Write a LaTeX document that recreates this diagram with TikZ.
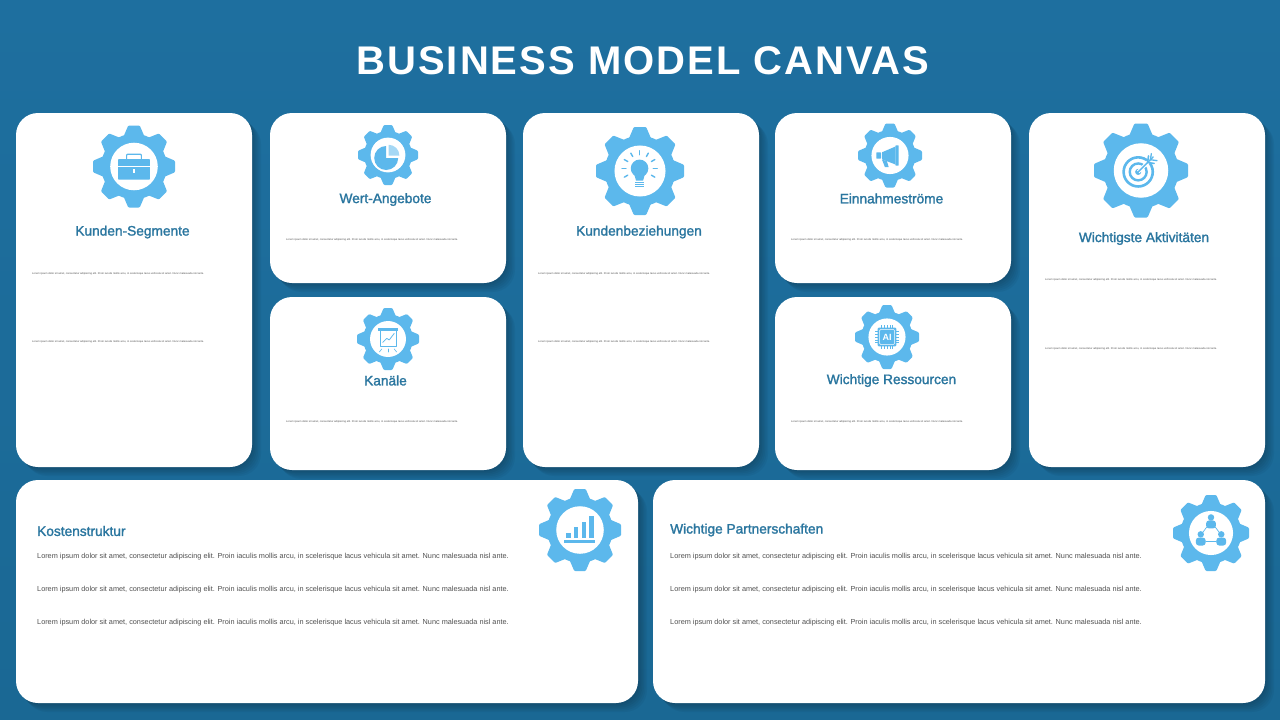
\documentclass[tikz,border=0pt]{standalone}
\usepackage{fontspec}
\setmainfont{Liberation Sans}
\newfontfamily\titlefont[LetterSpace=5]{Liberation Sans}
\newfontfamily\headfont[FakeBold=1.6]{Liberation Sans}
\usepackage{tikz}
\usetikzlibrary{positioning,shadows}

\definecolor{canvasblue}{HTML}{1E6F9F}
\definecolor{canvasdeep}{HTML}{1A6894}
\definecolor{gearblue}{HTML}{5CB8EC}
\definecolor{headblue}{HTML}{2A769F}
\definecolor{loremgrey}{HTML}{505050}

\newcommand{\loremline}{Lorem ipsum dolor sit amet, consectetur adipiscing elit. Proin iaculis mollis arcu, in scelerisque lacus vehicula sit amet. Nunc malesuada nisl ante.}

\tikzset{
    softshadow/.style={general shadow={fill=black,fill opacity=.04,shadow xshift=#1,shadow yshift=-#1}},
    cardbox/.style={fill=white,rounded corners=22pt,inner sep=0pt,
        softshadow=1.5pt,softshadow=3pt,softshadow=4.5pt,softshadow=6pt,softshadow=7.5pt,softshadow=9pt},
    maintitle/.style={text=white,font=\titlefont\fontsize{40}{44}\selectfont\bfseries},
    cardhead/.style={text=headblue,font=\headfont\fontsize{13.7}{15}\selectfont},
    tinylorem/.style={text=loremgrey,inner sep=0pt,anchor=west,font=\fontsize{2.66}{3}\selectfont},
    biglorem/.style={text=loremgrey,inner sep=0pt,anchor=west,font=\fontsize{7.3}{9}\selectfont},
    iconline/.style={draw=gearblue,line width=#1,line cap=round,line join=round},
    iconline/.default=1pt
}

% gear with a white hole, the icon goes in as #4, in units of the gear radius
\newcommand{\gearicon}[4]{%
    \begin{scope}[shift={(#1,#2)},scale=#3]
        \fill[gearblue] (0,0) circle (.8);
        \foreach \a in {0,45,...,315}{
            \fill[gearblue,rotate=\a,rounded corners=1pt] (-.26,-.72) -- (-.14,-1) -- (.14,-1) -- (.26,-.72) -- cycle;
        }
        \fill[white] (0,0) circle (.58);
        #4
    \end{scope}}

\begin{document}
\begin{tikzpicture}[x=1pt,y=-1pt]
    \useasboundingbox (0,0) rectangle (1280,720);
    \shade[top color=canvasblue,bottom color=canvasdeep] (0,0) rectangle (1280,720);

    \node[maintitle] (title) at (643,61) {BUSINESS MODEL CANVAS};

    % Define cards
    \node[cardbox,minimum width=236pt,minimum height=354pt] (segmente) at (134,290) {};
    \node[cardbox,minimum width=236pt,minimum height=170pt] (angebote) at (388,198) {};
    \node[cardbox,minimum width=236pt,minimum height=173pt] (kanaele) at (388,383.5) {};
    \node[cardbox,minimum width=236pt,minimum height=354pt] (beziehungen) at (641,290) {};
    \node[cardbox,minimum width=236pt,minimum height=170pt] (einnahmen) at (893,198) {};
    \node[cardbox,minimum width=236pt,minimum height=173pt] (ressourcen) at (893,383.5) {};
    \node[cardbox,minimum width=236pt,minimum height=354pt] (aktivitaeten) at (1147,290) {};
    \node[cardbox,minimum width=622pt,minimum height=223pt] (kosten) at (327,591.5) {};
    \node[cardbox,minimum width=612pt,minimum height=223pt] (partner) at (959,591.5) {};

    % Card heads
    \node[cardhead] (segmentehead) at (132.5,232) {Kunden-Segmente};
    \node[cardhead] (angebotehead) at (385.5,199.5) {Wert-Angebote};
    \node[cardhead] (kanaelehead) at (385.5,380.5) {Kanäle};
    \node[cardhead] (beziehungenhead) at (639,232) {Kundenbeziehungen};
    \node[cardhead] (einnahmenhead) at (891.5,198.5) {Einnahmeströme};
    \node[cardhead] (ressourcenhead) at (891.5,380.5) {Wichtige Ressourcen};
    \node[cardhead] (aktivitaetenhead) at (1144,238.5) {Wichtigste Aktivitäten};
    \node[cardhead,anchor=west,inner sep=0pt] (kostenhead) at (37,531) {Kostenstruktur};
    \node[cardhead,anchor=west,inner sep=0pt] (partnerhead) at (670,530) {Wichtige Partnerschaften};

    % Lorem lines
    \node[tinylorem] (segmentea) at (32,274) {\loremline};
    \node[tinylorem,below=68pt of segmentea.west,anchor=west] (segmenteb) {\loremline};
    \node[tinylorem] (angebotea) at (286,240) {\loremline};
    \node[tinylorem] (kanaelea) at (286,422) {\loremline};
    \node[tinylorem] (beziehungena) at (538,274) {\loremline};
    \node[tinylorem,below=68pt of beziehungena.west,anchor=west] (beziehungenb) {\loremline};
    \node[tinylorem] (einnahmena) at (791,240) {\loremline};
    \node[tinylorem] (ressourcena) at (791,422) {\loremline};
    \node[tinylorem] (aktivitaetena) at (1045,280) {\loremline};
    \node[tinylorem,below=69pt of aktivitaetena.west,anchor=west] (aktivitaetenb) {\loremline};
    \node[biglorem] (kostena) at (37,556.5) {\loremline};
    \node[biglorem,below=33pt of kostena.west,anchor=west] (kostenb) {\loremline};
    \node[biglorem,below=33pt of kostenb.west,anchor=west] (kostenc) {\loremline};
    \node[biglorem] (partnera) at (670,556.5) {\loremline};
    \node[biglorem,below=33pt of partnera.west,anchor=west] (partnerb) {\loremline};
    \node[biglorem,below=33pt of partnerb.west,anchor=west] (partnerc) {\loremline};

    % briefcase
    \gearicon{134}{166.5}{41}{
        \draw[iconline=1.2pt,rounded corners=1pt] (-.18,-.18) -- (-.18,-.3) -- (.18,-.3) -- (.18,-.18);
        \fill[gearblue,rounded corners=.8pt] (-.39,-.18) rectangle (.39,.32);
        \draw[white,line width=.9pt] (-.39,-.01) -- (.39,-.01);
        \fill[white] (-.03,.07) rectangle (.03,.17);
    }
    % pie chart
    \gearicon{388}{155}{30}{
        \fill[gearblue] (-.06,.1) -- ++(0:.4) arc (0:270:.4) -- cycle;
        \fill[gearblue!55] (.02,.02) -- ++(0:.36) arc (0:-90:.36) -- cycle;
    }
    % presentation board
    \gearicon{388}{339}{31}{
        \draw[iconline=.7pt] (-.26,-.27) rectangle (.28,.25);
        \fill[gearblue] (-.33,-.34) rectangle (.33,-.27);
        \draw[iconline=.8pt] (-.17,.11) -- (-.04,-.02) -- (.04,.03) -- (.2,-.18);
        \foreach \a in {-.2,0,.2}{
            \draw[iconline=.6pt] (\a,.32) -- (1.4*\a,.42);
        }
    }
    % light bulb
    \gearicon{640}{171}{44}{
        \fill[gearblue] (-.01,-.06) circle (.2);
        \fill[gearblue] (-.14,.04) -- (-.09,.22) -- (.07,.22) -- (.12,.04) -- cycle;
        \foreach \b in {.26,.31,.36}{
            \draw[gearblue,line width=1.1pt] (-.11,\b) -- (.09,\b);
        }
        \foreach \a in {-90,-60,-30,0,30,-120,-150,180,150}{
            \draw[iconline=1.4pt] (-.01,-.06) ++(\a:.31) -- ++(\a:.09);
        }
    }
    % megaphone
    \gearicon{890}{155.5}{32}{
        \fill[gearblue,rounded corners=.6pt] (.17,-.32) rectangle (.27,.32);
        \fill[gearblue] (.17,-.28) -- (-.25,-.1) -- (-.25,.12) -- (.17,.28) -- cycle;
        \fill[gearblue,rounded corners=.6pt] (-.43,-.1) rectangle (-.28,.1);
        \fill[gearblue] (-.25,.13) -- (-.16,.36) -- (-.04,.36) -- (-.1,.17) -- cycle;
    }
    % chip
    \gearicon{887}{337}{32}{
        \foreach \a in {-.18,-.09,0,.09,.18}{
            \draw[gearblue,line width=.6pt] (\a,-.36) -- (\a,.36);
            \draw[gearblue,line width=.6pt] (-.36,\a) -- (.36,\a);
        }
        \fill[gearblue,rounded corners=1pt] (-.29,-.29) rectangle (.29,.29);
        \draw[white,line width=.6pt,rounded corners=.8pt] (-.23,-.23) rectangle (.23,.23);
        \node[text=white,inner sep=0pt,font=\fontsize{9}{10}\selectfont\bfseries] (chiplabel) at (0,0) {AI};
    }
    % target
    \gearicon{1141}{170.5}{47}{
        \draw[gearblue,line width=2.6pt] (-.06,.03) circle (.31);
        \draw[gearblue,line width=2.4pt] (-.06,.03) circle (.18);
        \fill[gearblue] (-.06,.03) circle (.065);
        \draw[white,line width=3.5pt] (-.06,.03) -- (.18,-.21);
        \draw[iconline=1.3pt] (-.06,.03) -- (.26,-.29);
        \draw[iconline=1.6pt] (.14,-.17) -- (.16,-.31);
        \draw[iconline=1.6pt] (.14,-.17) -- (.28,-.15);
        \draw[iconline=1.3pt] (.2,-.23) -- (.22,-.36);
        \draw[iconline=1.3pt] (.2,-.23) -- (.34,-.21);
    }
    % bar chart
    \gearicon{580}{530}{41}{
        \fill[gearblue] (-.335,.065) rectangle (-.225,.2);
        \fill[gearblue] (-.15,-.065) rectangle (-.04,.2);
        \fill[gearblue] (.04,-.2) rectangle (.15,.2);
        \fill[gearblue] (.225,-.34) rectangle (.335,.2);
        \fill[gearblue] (-.38,.245) rectangle (.36,.31);
    }
    % people network
    \gearicon{1211}{533}{38}{
        \draw[iconline=.7pt] (-.11,-.16) -- (-.25,.03);
        \draw[iconline=.7pt] (.11,-.16) -- (.25,.03);
        \draw[iconline=.7pt] (-.14,.23) -- (.14,.23);
        \fill[gearblue] (0,-.41) circle (.085);
        \fill[gearblue,rounded corners=3pt] (-.13,-.12) -- (-.13,-.33) -- (.13,-.33) -- (.13,-.12) -- cycle;
        \fill[gearblue] (-.27,.035) circle (.085);
        \fill[gearblue,rounded corners=3pt] (-.4,.33) -- (-.4,.12) -- (-.14,.12) -- (-.14,.33) -- cycle;
        \fill[gearblue] (.27,.035) circle (.085);
        \fill[gearblue,rounded corners=3pt] (.14,.33) -- (.14,.12) -- (.4,.12) -- (.4,.33) -- cycle;
    }
\end{tikzpicture}
\end{document}
